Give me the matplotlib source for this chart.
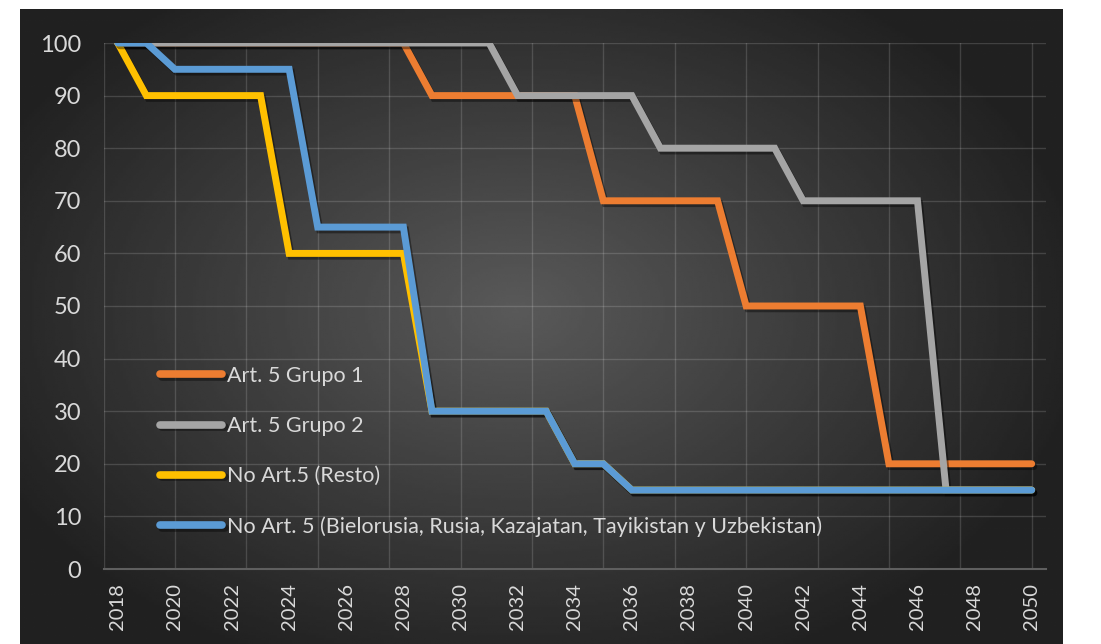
import numpy as np
import matplotlib
matplotlib.use("Agg")
import matplotlib.pyplot as plt
import matplotlib.patheffects as pe

plt.rcParams['font.family'] = ['Lato', 'DejaVu Sans']

years = list(range(2018, 2051))

# Art. 5 Grupo 1
grupo1 = [100] * 11 + [90] * 6 + [70] * 5 + [50] * 5 + [20] * 6
# Art. 5 Grupo 2
grupo2 = [100] * 14 + [90] * 5 + [80] * 5 + [70] * 5 + [15] * 4
# No Art.5 (Resto)
resto = [100] + [90] * 5 + [60] * 5 + [30] * 5 + [20] * 2 + [15] * 15
# No Art. 5 (Bielorusia, Rusia, Kazajatan, Tayikistan y Uzbekistan)
bielo = [100] * 2 + [95] * 5 + [65] * 4 + [30] * 5 + [20] * 2 + [15] * 15

labels = ["Art. 5 Grupo 1", "Art. 5 Grupo 2", "No Art.5 (Resto)",
          "No Art. 5 (Bielorusia, Rusia, Kazajatan, Tayikistan y Uzbekistan)"]
colors = ["#ED7D31", "#A5A5A5", "#FFC000", "#5B9BD5"]
series = [grupo1, grupo2, resto, bielo]

W, H = 1101, 644
fig = plt.figure(figsize=(W / 100, H / 100), dpi=100)
fig.patch.set_facecolor("white")

# dark radial gradient background
bg = fig.add_axes([20 / W, 0, (1063 - 20) / W, (H - 9) / H])
gx, gy = np.meshgrid(np.linspace(-1, 1, 400), np.linspace(-1, 1, 250))
r = np.sqrt(((gx + 0.05) / 1.0) ** 2 + ((gy + 0.05) / 1.1) ** 2)
shade = np.clip(0.35 - 0.2 * r, 0.13, 0.35)
bg.imshow(shade, cmap="gray", vmin=0, vmax=1, aspect="auto",
          extent=[0, 1, 0, 1], interpolation="bilinear")
bg.set_axis_off()

ax = fig.add_axes([103.5 / W, (H - 569) / H, (1046 - 103.5) / W, (569 - 43) / H])
ax.set_facecolor("none")
ax.set_xlim(2017.5, 2050.5)
ax.set_ylim(0, 100)

shadow = [pe.SimpleLineShadow(offset=(1.5, -2), shadow_color="black", alpha=0.4),
          pe.Normal()]
for vals, col, lab in zip(series, colors, labels):
    ax.plot(years, vals, color=col, lw=5, label=lab,
            solid_capstyle="round", solid_joinstyle="miter", path_effects=shadow)

ax.set_yticks(range(0, 101, 10))
ax.set_xticks(years[::2])
ax.tick_params(axis="both", which="both", length=0, colors="#d9d9d9")
ax.tick_params(axis="y", pad=16, labelsize=17)
ax.tick_params(axis="x", pad=10, labelrotation=90, labelsize=14.5)
ax.grid(False)
for v in range(10, 101, 10):
    ax.axhline(v, color="white", alpha=0.15, lw=1, zorder=0)
for v in np.arange(2017.5, 2050.1, 2.5):
    ax.axvline(v, color="white", alpha=0.15, lw=1, zorder=0)
for s in ["top", "right", "left"]:
    ax.spines[s].set_visible(False)
ax.spines["bottom"].set_color("#5f5f5f")
ax.spines["bottom"].set_linewidth(1.5)

leg = ax.legend(loc="upper left", bbox_to_anchor=(0.06, 0.386), frameon=False,
                fontsize=15.5, labelcolor="#d9d9d9", handlelength=2.9,
                handletextpad=0.2, labelspacing=1.4, borderpad=0,
                borderaxespad=0)
for h in leg.get_lines():
    h.set_linewidth(5.5)
    h.set_solid_capstyle("round")

fig.savefig("out.png", dpi=100, facecolor=fig.get_facecolor())
